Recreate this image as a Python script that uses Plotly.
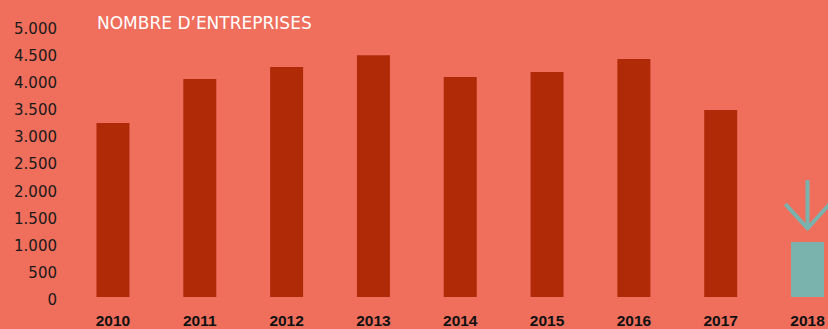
import plotly.graph_objects as go

years = [2010, 2011, 2012, 2013, 2014, 2015, 2016, 2017, 2018]
values = [3200, 4010, 4230, 4450, 4050, 4140, 4380, 3440, 1010]
bar_colors = ["#B12A08"] * 8 + ["#7AB3AE"]
tick_vals = [0, 500, 1000, 1500, 2000, 2500, 3000, 3500, 4000, 4500, 5000]
title_text = "NOMBRE D\u2019ENTREPRISES"

BG = "#EF6E5C"
TEAL = "#7AB3AE"
FONT = "Liberation Sans"
FONT2 = "DejaVu Sans"

fig = go.Figure()
fig.add_trace(go.Bar(
    x=years, y=values, marker=dict(color=bar_colors, line=dict(width=0)),
    width=0.38, hoverinfo="skip",
))

# Arrow above the last bar
last_x, last_v = years[-1], values[-1]
tip = last_v + 255
top = last_v + 1140
arm = last_v + 700
fig.add_trace(go.Scatter(
    x=[last_x, last_x], y=[top, tip], mode="lines",
    line=dict(color=TEAL, width=4), hoverinfo="skip",
))
fig.add_trace(go.Scatter(
    x=[last_x - 0.255, last_x, last_x + 0.255], y=[arm, tip, arm], mode="lines",
    line=dict(color=TEAL, width=4), hoverinfo="skip",
))

fig.update_layout(
    width=828, height=329,
    margin=dict(l=70, r=0, t=20, b=32, autoexpand=False),
    paper_bgcolor=BG, plot_bgcolor=BG,
    showlegend=False,
    separators=",.",
    font=dict(family=FONT, color="#1a1a1a", size=14),
    xaxis=dict(
        range=[2009.505, 2018.236], tickvals=years, ticktext=[str(y) for y in years],
        showgrid=False, zeroline=False, showline=False, ticks="", automargin=False,
        tickfont=dict(family=FONT, size=15.5, color="#111111", weight="bold"),
        ticklabelstandoff=12,
    ),
    yaxis=dict(
        range=[0, 5097], tickvals=tick_vals, tickformat=",d",
        showgrid=False, zeroline=False, showline=False, ticks="", automargin=False,
        tickfont=dict(family=FONT2, size=15, color="#1a1a1a"),
        ticklabelstandoff=12, ticklabelshift=3,
    ),
    annotations=[dict(
        text=title_text, xref="paper", yref="paper", x=(95 - 70) / 758, y=1 + (20 - 23) / 277,
        xanchor="left", yanchor="middle", showarrow=False,
        font=dict(family=FONT2, size=17, color="white"),
    )],
)

fig.write_html("out.html")
